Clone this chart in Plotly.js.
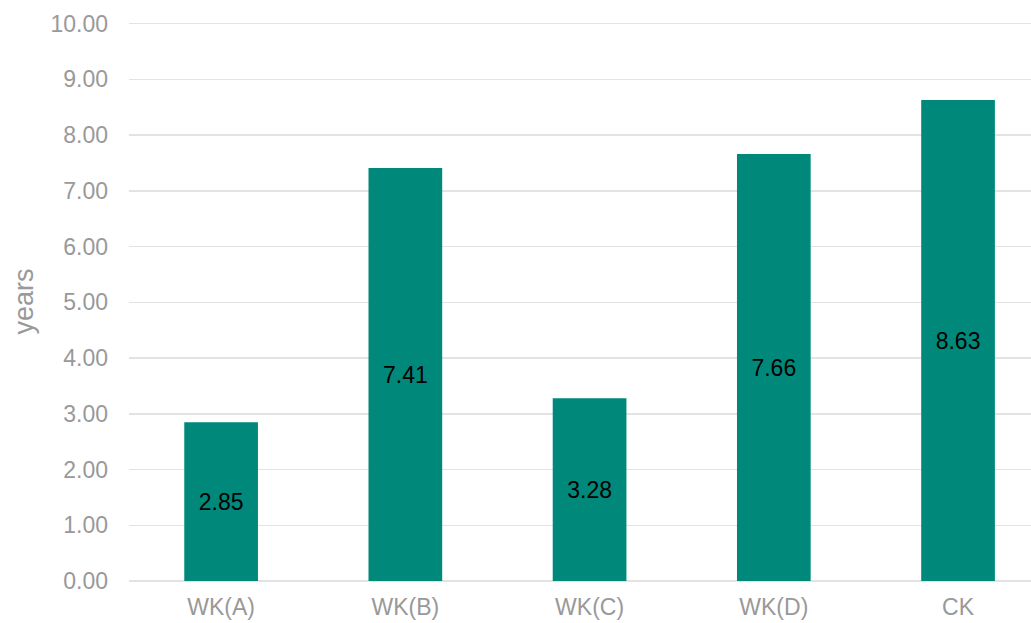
<!DOCTYPE html>
<html>
<head>
<meta charset="utf-8">
<script src="https://cdn.plot.ly/plotly-3.0.1.min.js"></script>
<style>html,body{margin:0;padding:0;background:#fff;}#chart{width:1031px;height:623px;}</style>
</head>
<body>
<div id="chart"></div>
<script>
const categories = ["WK(A)", "WK(B)", "WK(C)", "WK(D)", "CK"];
const values = [2.85, 7.41, 3.28, 7.66, 8.63];
const yTickVals = [0,1,2,3,4,5,6,7,8,9,10];
const yTickText = yTickVals.map(v => v.toFixed(2));
const yTitle = "years";

const trace = {
  type: "bar",
  x: categories,
  y: values,
  marker: {color: "#00897B"},
  text: values.map(v => v.toFixed(2)),
  textposition: "inside",
  insidetextanchor: "middle",
  textfont: {family: "Liberation Sans, Arial, sans-serif", size: 23, color: "#000000"},
  hoverinfo: "x+y"
};

const layout = {
  width: 1031, height: 623,
  margin: {l: 129, r: 0, t: 22, b: 42, pad: 0},
  paper_bgcolor: "#ffffff",
  plot_bgcolor: "#ffffff",
  bargap: 0.6,
  showlegend: false,
  font: {family: "Liberation Sans, Arial, sans-serif", color: "#999999", size: 23},
  xaxis: {
    type: "category",
    range: [-0.5, 4.396],
    showgrid: false,
    showline: false,
    zeroline: false,
    ticks: "",
    tickfont: {size: 23, color: "#999999"},
    ticklabelstandoff: 10
  },
  yaxis: {
    range: [0, 10.03],
    tickvals: yTickVals,
    ticktext: yTickText,
    showgrid: true,
    gridcolor: "#e3e3e3",
    gridwidth: 1.5,
    zeroline: true,
    zerolinecolor: "#e3e3e3",
    zerolinewidth: 1.5,
    showline: false,
    ticks: "",
    tickfont: {size: 23, color: "#999999"},
    ticklabelstandoff: 20,
    title: {text: yTitle, font: {size: 27, color: "#999999"}, standoff: 8}
  }
};

Plotly.newPlot("chart", [trace], layout, {displayModeBar: false, staticPlot: true});
</script>
</body>
</html>
